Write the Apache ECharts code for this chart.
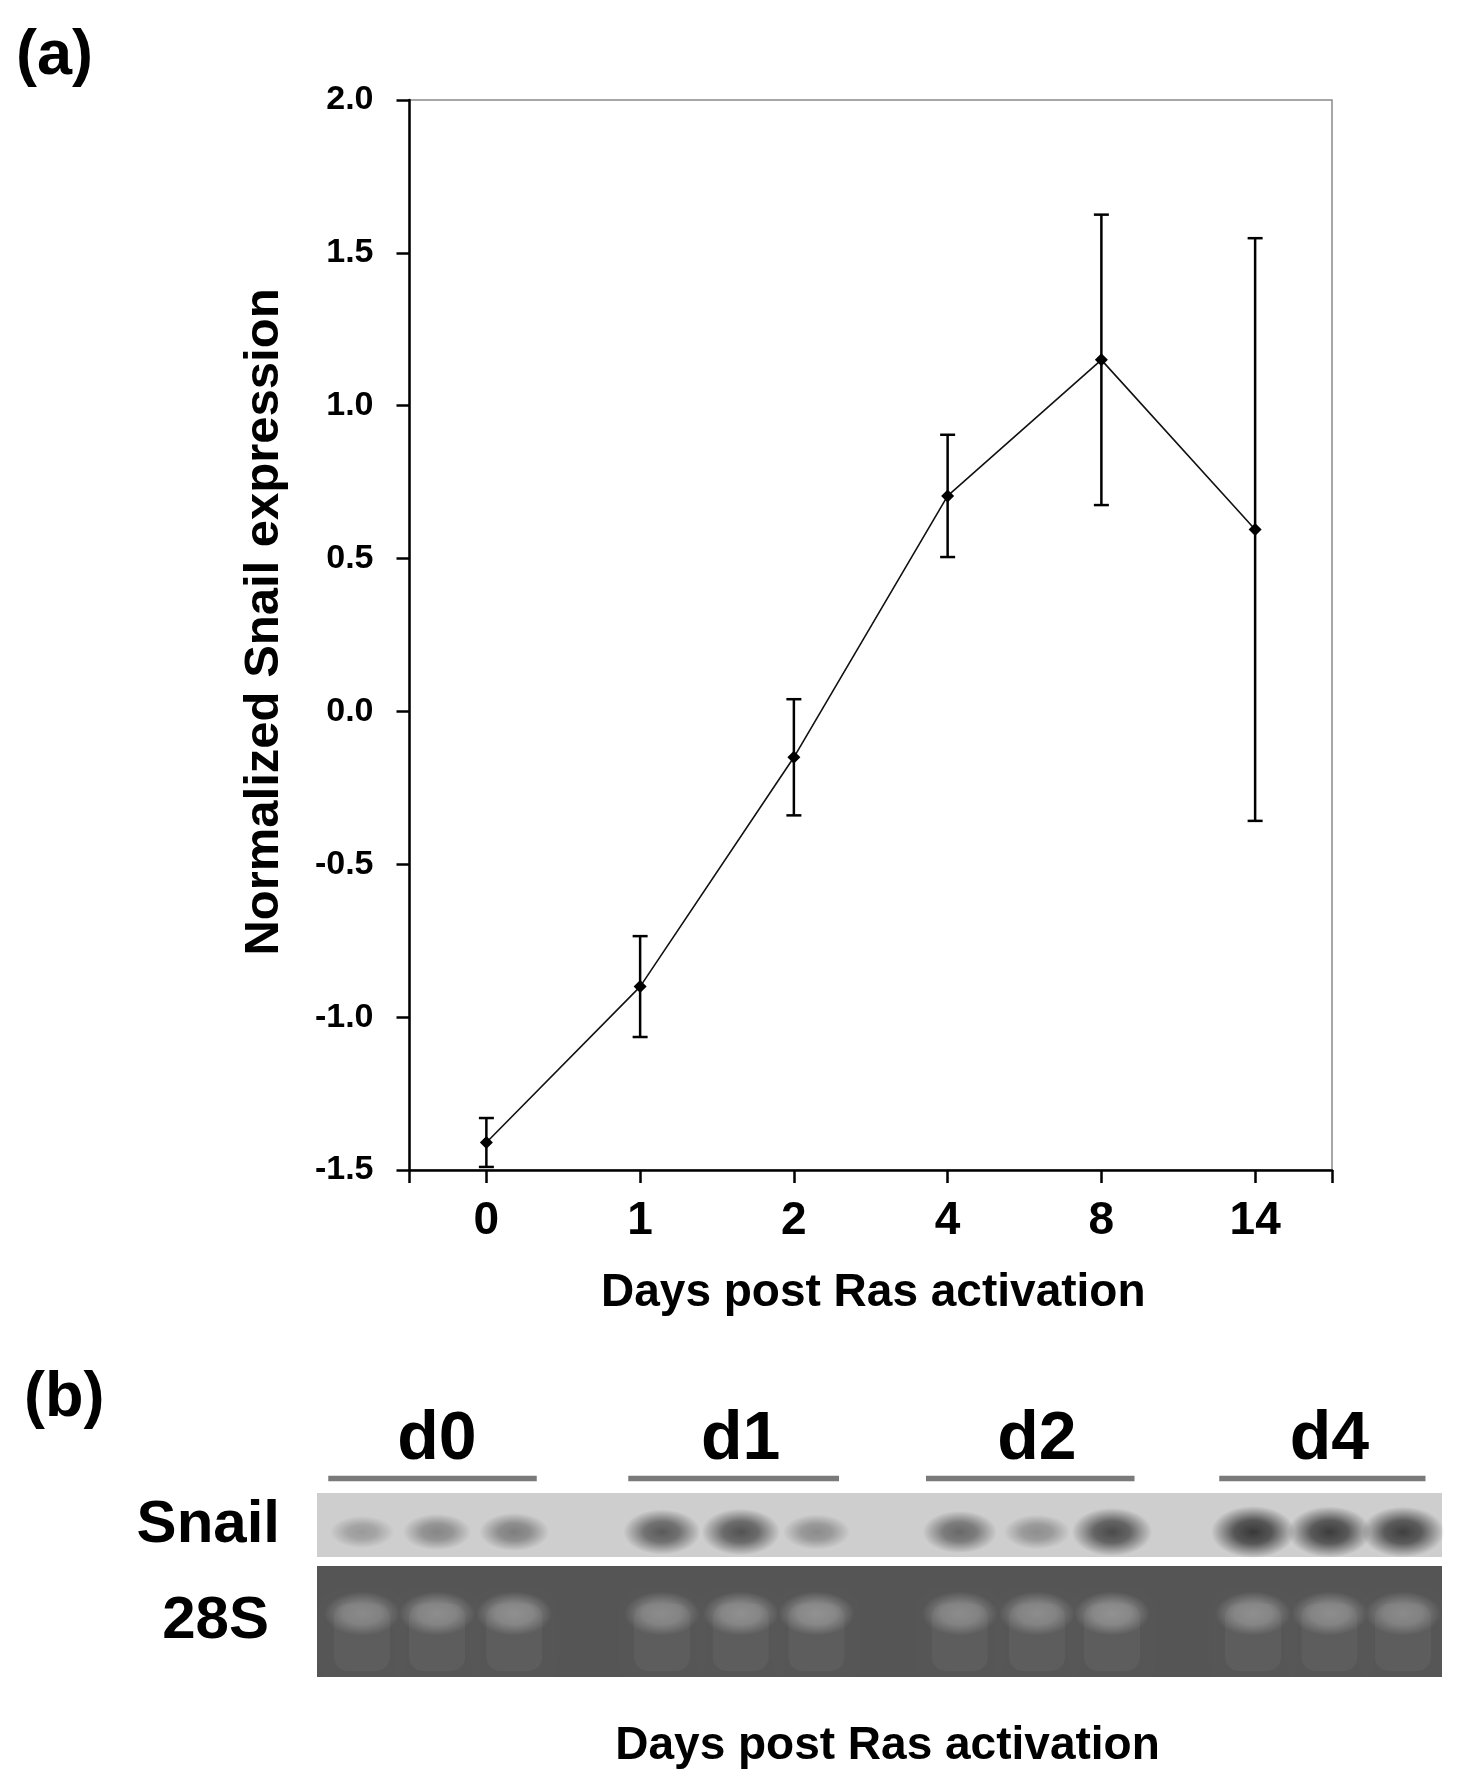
<!DOCTYPE html>
<html lang="en">
<head>
    <meta charset="utf-8">
    <title>Snail expression after Ras activation</title>
    <script src="https://cdn.jsdelivr.net/npm/echarts@6/dist/echarts.min.js"></script>
    <style type="text/css">
        html, body { margin: 0; padding: 0; background: #fff; }
        #main { width: 1468px; height: 1788px; }
    </style>
</head>
<body>
    <div id="main"></div>
    <script type="text/javascript">
        // panel (a): normalized Snail expression vs days
        var days = ['0', '1', '2', '4', '8', '14'];
        var snailMean = [-1.41, -0.90, -0.15, 0.705, 1.15, 0.595];
        var snailErr = [0.08, 0.165, 0.19, 0.20, 0.475, 0.953];

        // panel (b): northern blot, 3 lanes per day
        var gelGroups = ['d0', 'd1', 'd2', 'd4'];
        var laneGroup = [0, 0, 0, 1, 1, 1, 2, 2, 2, 3, 3, 3];
        var lanePos = [0.6, 1.6, 2.63, 4.6, 5.65, 6.66, 8.57, 9.6, 10.6, 12.48, 13.5, 14.48];
        var snailBand = [0.18, 0.35, 0.42, 0.72, 0.78, 0.3, 0.6, 0.28, 0.85, 1.0, 0.97, 0.95];
        var rrnaBand = [0.55, 0.62, 0.68, 0.6, 0.68, 0.72, 0.58, 0.6, 0.72, 0.66, 0.62, 0.55];

        var FONT = 'Liberation Sans, Arial, sans-serif';

        var chart = echarts.init(document.getElementById('main'));

        // soft elliptical spot: a circle with radial gradient, stretched horizontally
        function softSpot(cx, cy, rx, ry, rgb, alpha, core) {
            return {
                type: 'circle',
                x: cx, y: cy, scaleX: rx / ry, scaleY: 1,
                shape: { cx: 0, cy: 0, r: ry },
                style: {
                    fill: new echarts.graphic.RadialGradient(0.5, 0.5, 0.5, [
                        { offset: 0, color: 'rgba(' + rgb + ',' + alpha + ')' },
                        { offset: core, color: 'rgba(' + rgb + ',' + (alpha * 0.8).toFixed(3) + ')' },
                        { offset: 1, color: 'rgba(' + rgb + ',0)' }
                    ])
                }
            };
        }

        var option = {
            animation: false,
            backgroundColor: '#fff',
            textStyle: { fontFamily: FONT },
            title: [
                { text: '(a)', left: 11, top: 20, textStyle: { fontSize: 63, fontWeight: 'bold', color: '#000', fontFamily: FONT } },
                { text: '(b)', left: 19, top: 1362, textStyle: { fontSize: 63, fontWeight: 'bold', color: '#000', fontFamily: FONT } }
            ],
            grid: [
                { left: 409.5, top: 100, width: 922.5, height: 1070, show: true, borderColor: '#8a8a8a', borderWidth: 1.5, backgroundColor: 'transparent' },
                { left: 317, top: 1493, width: 1125, height: 64, show: true, borderWidth: 0, backgroundColor: '#cecece' },
                { left: 317, top: 1566, width: 1125, height: 111, show: true, borderWidth: 0, backgroundColor: '#555555' }
            ],
            xAxis: [
                {
                    gridIndex: 0, type: 'value', min: -0.5, max: 5.5,
                    axisLine: { show: true, onZero: false, lineStyle: { color: '#000', width: 2.5 } },
                    axisTick: { show: true, length: 13, lineStyle: { color: '#000', width: 2.5 }, customValues: [-0.5, 0, 1, 2, 3, 4, 5, 5.5] },
                    axisLabel: {
                        customValues: [0, 1, 2, 3, 4, 5], margin: 28,
                        formatter: function (v) { return days[Math.round(v)]; },
                        fontSize: 46, fontWeight: 'bold', color: '#000', fontFamily: FONT
                    },
                    splitLine: { show: false },
                    name: 'Days post Ras activation', nameLocation: 'middle', nameGap: 100,
                    nameTextStyle: { fontSize: 46, fontWeight: 'bold', color: '#000', fontFamily: FONT, padding: [0, 0, 0, 5] }
                },
                { gridIndex: 1, type: 'value', min: 0, max: 15, show: false },
                {
                    gridIndex: 2, type: 'value', min: 0, max: 15,
                    axisLine: { show: false }, axisTick: { show: false }, axisLabel: { show: false }, splitLine: { show: false },
                    name: 'Days post Ras activation', nameLocation: 'middle', nameGap: 46,
                    nameTextStyle: { fontSize: 46, fontWeight: 'bold', color: '#000', fontFamily: FONT, padding: [0, 0, 0, 16] }
                }
            ],
            yAxis: [
                {
                    gridIndex: 0, type: 'value', min: -1.5, max: 2.0, interval: 0.5,
                    axisLine: { show: true, onZero: false, lineStyle: { color: '#000', width: 2.5 } },
                    axisTick: { show: true, length: 13, lineStyle: { color: '#000', width: 2.5 } },
                    axisLabel: {
                        margin: 36, formatter: function (v) { return v.toFixed(1); },
                        fontSize: 34, fontWeight: 'bold', color: '#000', fontFamily: FONT
                    },
                    splitLine: { show: false },
                    name: 'Normalized Snail expression', nameLocation: 'middle', nameGap: 121,
                    nameTextStyle: { fontSize: 49, fontWeight: 'bold', color: '#000', fontFamily: FONT, padding: [0, 0, 0, 26] }
                },
                {
                    gridIndex: 1, type: 'category', data: ['Snail'],
                    axisLine: { show: false }, axisTick: { show: false }, splitLine: { show: false },
                    axisLabel: { margin: 37, fontSize: 60, fontWeight: 'bold', color: '#000', fontFamily: FONT }
                },
                {
                    gridIndex: 2, type: 'category', data: ['28S'],
                    axisLine: { show: false }, axisTick: { show: false }, splitLine: { show: false },
                    axisLabel: { margin: 48, fontSize: 60, fontWeight: 'bold', color: '#000', fontFamily: FONT }
                }
            ],
            series: [
                {
                    name: 'error',
                    type: 'custom',
                    xAxisIndex: 0, yAxisIndex: 0,
                    data: snailMean.map(function (m, i) { return [i, m - snailErr[i], m + snailErr[i]]; }),
                    renderItem: function (params, api) {
                        var lo = api.coord([api.value(0), api.value(1)]);
                        var hi = api.coord([api.value(0), api.value(2)]);
                        var w = 7.5;
                        var st = { stroke: '#000', lineWidth: 2.5 };
                        return {
                            type: 'group', children: [
                                { type: 'line', shape: { x1: lo[0], y1: lo[1], x2: hi[0], y2: hi[1] }, style: st },
                                { type: 'line', shape: { x1: hi[0] - w, y1: hi[1], x2: hi[0] + w, y2: hi[1] }, style: st },
                                { type: 'line', shape: { x1: lo[0] - w, y1: lo[1], x2: lo[0] + w, y2: lo[1] }, style: st }
                            ]
                        };
                    },
                    z: 2
                },
                {
                    name: 'Snail',
                    type: 'line',
                    xAxisIndex: 0, yAxisIndex: 0,
                    data: snailMean.map(function (m, i) { return [i, m]; }),
                    symbol: 'diamond', symbolSize: 13,
                    itemStyle: { color: '#000' },
                    lineStyle: { color: '#111', width: 1.6 },
                    z: 3
                },
                {
                    name: 'snail bands',
                    type: 'custom',
                    xAxisIndex: 1, yAxisIndex: 1,
                    data: lanePos.map(function (x, i) { return [x, 0, snailBand[i]]; }),
                    renderItem: function (params, api) {
                        var v = api.value(2);
                        var c = api.coord([api.value(0), 0]);
                        return {
                            type: 'group',
                            children: [
                                softSpot(c[0], c[1] + 7, 30 + 12 * v, 14 + 12 * v, '40,40,40', (0.18 + 0.72 * v).toFixed(3), 0.45)
                            ]
                        };
                    }
                },
                {
                    name: 'group headers',
                    type: 'custom',
                    xAxisIndex: 1, yAxisIndex: 1,
                    data: gelGroups.map(function (g, gi) { return [gi]; }),
                    renderItem: function (params, api) {
                        var gi = api.value(0);
                        var lanes = lanePos.filter(function (x, i) { return laneGroup[i] === gi; });
                        var x0 = api.coord([lanes[0] - 0.45, 0])[0];
                        var x1 = api.coord([lanes[lanes.length - 1] + 0.3, 0])[0];
                        var xm = api.coord([lanes[1], 0])[0];
                        var top = params.coordSys.y;
                        return {
                            type: 'group', children: [
                                { type: 'line', shape: { x1: x0, y1: top - 14.5, x2: x1, y2: top - 14.5 }, style: { stroke: '#7a7a7a', lineWidth: 5.5 } },
                                {
                                    type: 'text', x: xm, y: top - 53,
                                    style: { text: gelGroups[gi], fill: '#000', fontSize: 68, fontWeight: 'bold', fontFamily: FONT, align: 'center', verticalAlign: 'middle' }
                                }
                            ]
                        };
                    }
                },
                {
                    name: '28S bands',
                    type: 'custom',
                    xAxisIndex: 2, yAxisIndex: 2,
                    data: lanePos.map(function (x, i) { return [x, 0, rrnaBand[i]]; }),
                    renderItem: function (params, api) {
                        var v = api.value(2);
                        var c = api.coord([api.value(0), 0]);
                        var cs = params.coordSys;
                        var cy = c[1] - 8;
                        return {
                            type: 'group',
                            children: [
                                {
                                    type: 'rect',
                                    shape: { x: c[0] - 28, y: cy - 10, width: 56, height: cs.y + cs.height - cy + 4, r: 14 },
                                    style: { fill: 'rgba(255,255,255,0.045)', shadowBlur: 14, shadowColor: 'rgba(255,255,255,0.06)' }
                                },
                                softSpot(c[0], cy, 38, 22, '200,200,200', (0.22 + 0.38 * v).toFixed(3), 0.5)
                            ]
                        };
                    }
                }
            ]
        };

        chart.setOption(option);
    </script>
</body>
</html>
